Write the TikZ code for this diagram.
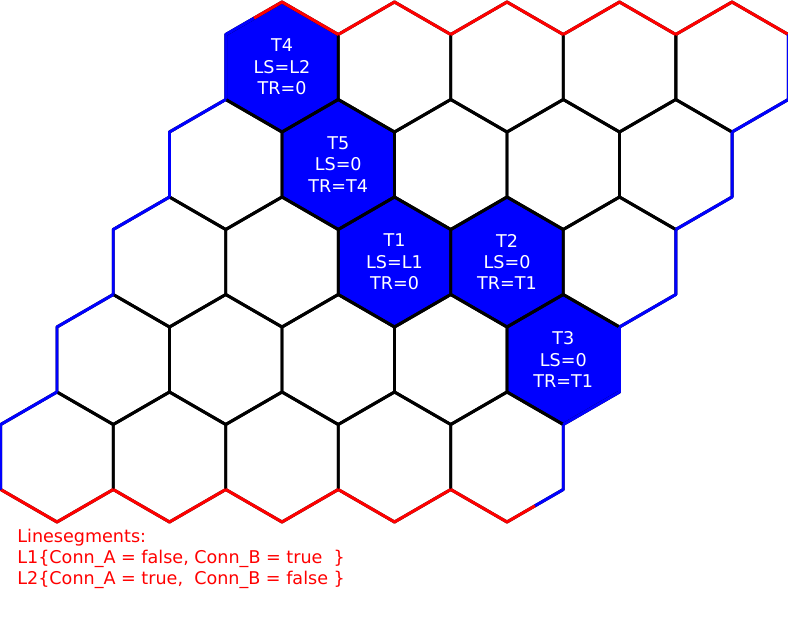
\documentclass[tikz,border=0pt]{standalone}
\usepackage{fontspec}
\setmainfont{DejaVu Sans}
\usetikzlibrary{positioning}

\tikzset{
  hexline/.style={draw=black, line width=1.7pt, line join=round},
  tile/.style={fill=blue},
  redline/.style={draw=red, line width=1.7pt, line join=round},
  blueline/.style={draw=blue, line width=1.7pt, line join=round},
  tilelabel/.style={text=white, align=center, inner sep=0pt, font=\fontsize{10}{12.2}\selectfont},
  legend/.style={text=red, align=left, inner sep=0pt, font=\fontsize{10}{12}\selectfont},
}

\begin{document}
\begin{tikzpicture}[x=0.02cm, y=-0.02cm]
  \useasboundingbox (0,0) rectangle (788,625);
  % hex centres
  \foreach \r in {0,...,4}
    \foreach \c in {0,...,4}
      \coordinate (h\r\c) at ({282+112.5*\c-56.25*\r},{67+97.5*\r});

  % occupied tiles
  \foreach \t in {h00,h11,h22,h23,h34}
    \fill[tile] (\t) +(0,-65) -- +(56.25,-32.5) -- +(56.25,32.5) -- +(0,65) -- +(-56.25,32.5) -- +(-56.25,-32.5) -- cycle;

  % board
  \foreach \r in {0,...,4}
    \foreach \c in {0,...,4}
      \draw[hexline] (h\r\c) +(0,-65) -- +(56.25,-32.5) -- +(56.25,32.5) -- +(0,65) -- +(-56.25,32.5) -- +(-56.25,-32.5) -- cycle;

  % red sides
  \draw[redline] (h00) +(-28.125,-48.75) -- +(0,-65) -- +(56.25,-32.5);
  \foreach \c in {1,...,4}
    \draw[redline] (h0\c) +(-56.25,-32.5) -- +(0,-65) -- +(56.25,-32.5);
  \foreach \c in {0,...,3}
    \draw[redline] (h4\c) +(-56.25,32.5) -- +(0,65) -- +(56.25,32.5);
  \draw[redline] (h44) +(-56.25,32.5) -- +(0,65) -- +(28.125,48.75);

  % blue sides
  \draw[blueline] (h00) +(-56.25,32.5) -- +(-56.25,-32.5) -- +(-28.125,-48.75);
  \foreach \r in {1,...,4}
    \draw[blueline] (h\r0) +(-56.25,32.5) -- +(-56.25,-32.5) -- +(0,-65);
  \foreach \r in {0,...,3}
    \draw[blueline] (h\r4) +(56.25,-32.5) -- +(56.25,32.5) -- +(0,65);
  \draw[blueline] (h44) +(56.25,-32.5) -- +(56.25,32.5) -- +(28.125,48.75);

  % tile labels
  \node[tilelabel] (t4) at (h00) {T4\\LS=L2\\TR=0};
  \node[tilelabel] (t5) at (h11) {T5\\LS=0\\TR=T4};
  \node[tilelabel] (t1) at (h22) {T1\\LS=L1\\TR=0};
  \node[tilelabel] (t2) at (h23) {T2\\LS=0\\TR=T1};
  \node[tilelabel] (t3) at (h34) {T3\\LS=0\\TR=T1};

  \node[legend, anchor=west] (segs) at (17,559)
    {Linesegments:\\L1\{Conn\_A = false, Conn\_B = true\ \ \}\\L2\{Conn\_A = true,\ \ Conn\_B = false \}};
\end{tikzpicture}
\end{document}
